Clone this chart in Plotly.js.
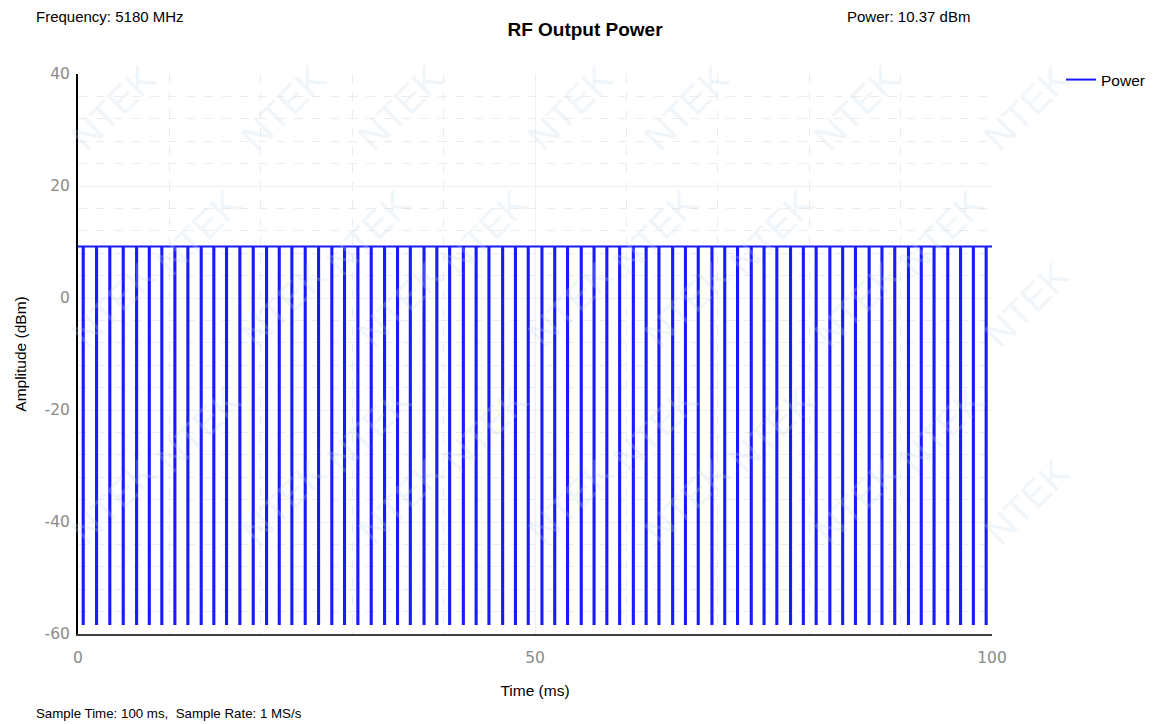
<!DOCTYPE html>
<html>
<head>
<meta charset="utf-8">
<script src="https://cdn.plot.ly/plotly-3.0.1.min.js"></script>
<style>
  html, body { margin: 0; padding: 0; background: #fff; }
  #chart { width: 1155px; height: 724px; }
</style>
</head>
<body>
<div id="chart"></div>
<script>
// values
const highLevel = 9.2;     // dBm, burst level
const lowLevel = -58.2;    // dBm, floor between bursts
const notchWidth = 0.12;   // ms, length of each gap
const startTime = 0;
const endTime = 100;
// ms, position of each gap
const notchTimes = [
  0.51, 1.97, 3.42, 4.89, 6.35, 7.74, 9.11, 10.54, 11.96, 13.42,
  14.8, 16.19, 17.65, 19.11, 20.57, 21.96, 23.34, 24.8, 26.26, 27.71,
  29.1, 30.56, 32.02, 33.48, 34.9, 36.3, 37.8, 39.2, 40.6, 42.1,
  43.5, 44.9, 46.4, 47.8, 49.2, 50.7, 52.1, 53.5, 55.0, 56.4,
  57.8, 59.2, 60.7, 62.1, 63.5, 65.0, 66.4, 67.8, 69.3, 70.7,
  72.1, 73.6, 75.0, 76.4, 77.9, 79.3, 80.7, 82.2, 83.6, 85.0,
  86.5, 87.9, 89.3, 90.8, 92.2, 93.6, 95.1, 96.5, 97.9, 99.3
];
const xTicks = [0, 50, 100];
const yTicks = [-60, -40, -20, 0, 20, 40];

// build the step trace from the gap list
const xs = [startTime];
const ys = [highLevel];
notchTimes.forEach(t => {
  xs.push(t, t, t + notchWidth, t + notchWidth);
  ys.push(highLevel, lowLevel, lowLevel, highLevel);
});
xs.push(endTime);
ys.push(highLevel);

const font = 'Liberation Sans, Arial, sans-serif';
const tickFontFamily = 'DejaVu Sans, Liberation Sans, sans-serif';

// faint diagonal watermark, kept inside the canvas
const marks = [];
for (let r = 0; r < 6; r++) {
  for (let c = 0; c < 8; c++) {
    const px = c * 170 + (r % 2) * 85 + 60;
    const py = r * 125 + 55;
    if (px < 55 || px > 1100 || py < 50 || py > 675) continue;
    marks.push({
      xref: 'paper', yref: 'paper',
      x: (px - 78) / 914,
      y: (634 - py) / 560,
      text: 'NTEK', showarrow: false, textangle: -45,
      font: { family: font, size: 38, color: 'rgba(195,218,238,0.25)' }
    });
  }
}

const annotations = marks.concat([
  {
    xref: 'paper', yref: 'paper', x: (34 - 78) / 914, y: (634 - 17) / 560,
    xanchor: 'left', yanchor: 'middle', showarrow: false,
    text: 'Frequency: 5180 MHz', font: { family: font, size: 15, color: '#000' }
  },
  {
    xref: 'paper', yref: 'paper', x: (845 - 78) / 914, y: (634 - 17) / 560,
    xanchor: 'left', yanchor: 'middle', showarrow: false,
    text: 'Power: 10.37 dBm', font: { family: font, size: 15, color: '#000' }
  },
  {
    xref: 'paper', yref: 'paper', x: (34 - 78) / 914, y: (634 - 713) / 560,
    xanchor: 'left', yanchor: 'middle', showarrow: false,
    text: 'Sample Time: 100 ms,&nbsp;&nbsp;Sample Rate: 1 MS/s', font: { family: font, size: 13.3, color: '#000' }
  }
]);

const trace = {
  x: xs,
  y: ys,
  type: 'scatter',
  mode: 'lines',
  name: 'Power',
  line: { color: '#1a1aff', width: 2 }
};

const layout = {
  width: 1155,
  height: 724,
  margin: { l: 78, r: 163, t: 74, b: 90, autoexpand: false },
  paper_bgcolor: '#fff',
  plot_bgcolor: '#fff',
  font: { family: font, size: 13, color: '#000' },
  title: {
    text: '<b>RF Output Power</b>',
    x: 585 / 1155, xref: 'container', xanchor: 'center',
    y: 1 - 29 / 724, yref: 'container', yanchor: 'middle',
    font: { family: font, size: 19, color: '#000' }
  },
  xaxis: {
    range: [startTime, endTime],
    tickvals: xTicks,
    ticktext: xTicks.map(String),
    ticks: '',
    ticklabelstandoff: 8,
    tickfont: { family: tickFontFamily, size: 15.5, color: '#8a8a8a' },
    showline: true, linecolor: '#404040', linewidth: 2,
    showgrid: true, gridcolor: '#efefef', gridwidth: 1,
    zeroline: false,
    minor: { dtick: 10, showgrid: true, gridcolor: '#ececec', griddash: 'dash', gridwidth: 1 },
    title: { text: 'Time (ms)', standoff: 20, font: { family: font, size: 15.5, color: '#000' } }
  },
  yaxis: {
    range: [-60, 40],
    tickvals: yTicks,
    ticktext: yTicks.map(String),
    ticks: '',
    ticklabelstandoff: 3,
    tickfont: { family: tickFontFamily, size: 15.5, color: '#8a8a8a' },
    showline: true, linecolor: '#000', linewidth: 2,
    showgrid: true, gridcolor: '#efefef', gridwidth: 1,
    zeroline: false,
    minor: { dtick: 4, showgrid: true, gridcolor: '#ececec', griddash: 'dash', gridwidth: 1 },
    title: { text: 'Amplitude (dBm)', standoff: 14, font: { family: font, size: 15.5, color: '#000' } }
  },
  showlegend: true,
  legend: {
    x: (1061 - 78) / 914, xanchor: 'left',
    y: (634 - 63) / 560, yanchor: 'top',
    bgcolor: 'rgba(0,0,0,0)',
    font: { family: font, size: 15.5, color: '#000' }
  },
  annotations: annotations
};

Plotly.newPlot('chart', [trace], layout, { displayModeBar: false, staticPlot: true });
</script>
</body>
</html>
